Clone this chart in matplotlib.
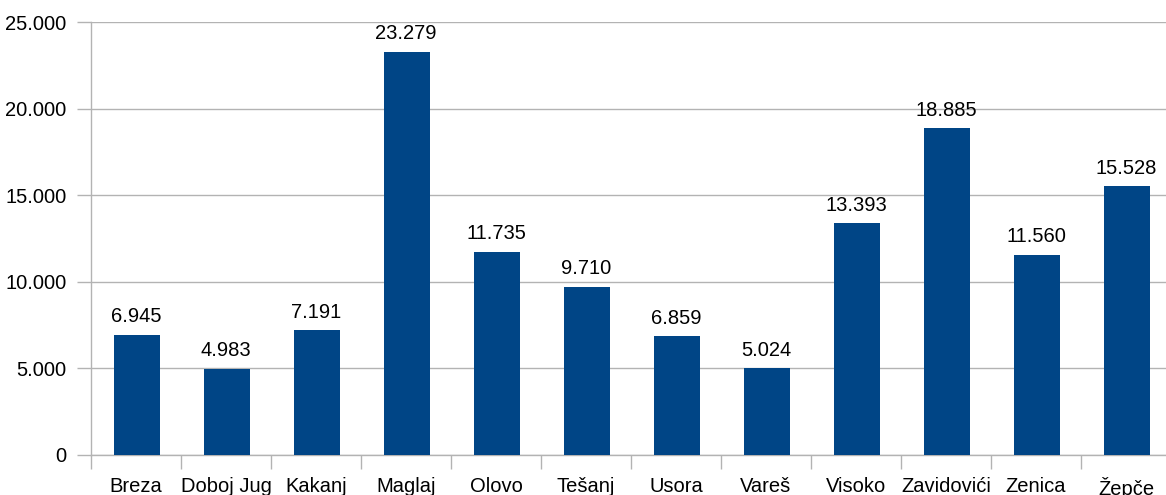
import matplotlib
matplotlib.use("Agg")
import matplotlib.pyplot as plt
from matplotlib.ticker import FuncFormatter, MultipleLocator

categories = ["Breza", "Doboj Jug", "Kakanj", "Maglaj", "Olovo", "Tešanj",
              "Usora", "Vareš", "Visoko", "Zavidovići", "Zenica", "Žepče"]
values = [6945, 4983, 7191, 23279, 11735, 9710, 6859, 5024, 13393, 18885, 11560, 15528]

plt.rcParams["font.family"] = ["Liberation Sans", "DejaVu Sans"]

W, H = 1166, 495
fig = plt.figure(figsize=(W / 100, H / 100), dpi=100)
left, right, top, bottom = 91, 1171, 22, 455
ax = fig.add_axes([left / W, 1 - bottom / H, (right - left) / W, (bottom - top) / H])

bar_color = "#004586"
grid_color = "#b3b3b3"
fs = 14.5

def fmt(v):
    return f"{int(round(v)):,}".replace(",", ".")

x = range(len(categories))
ax.bar([i + 0.01 for i in x], values, width=0.51, color=bar_color, zorder=3)
for i, v in enumerate(values):
    ax.annotate(fmt(v), (i, v), xytext=(0, 6), textcoords="offset points",
                ha="center", va="bottom", fontsize=fs, color="#000000")

ax.set_xlim(-0.5, len(categories) - 0.5)
ax.set_ylim(0, 25000)
ax.yaxis.set_major_locator(MultipleLocator(5000))
ax.yaxis.set_major_formatter(FuncFormatter(lambda v, p: fmt(v)))
ax.grid(axis="y", color=grid_color, linewidth=1, zorder=0)

ax.set_xticks([i - 0.5 for i in range(len(categories) + 1)], minor=False)
ax.set_xticklabels([""] * (len(categories) + 1))
ax.set_xticks(list(x), minor=True)
ax.set_xticklabels(categories, minor=True)
ax.tick_params(axis="x", which="major", length=10, width=1, color=grid_color)
ax.tick_params(axis="x", which="minor", length=0, pad=16, labelsize=fs)
ax.tick_params(axis="y", length=10, width=1, color=grid_color, pad=7.5, labelsize=fs)

for s in ["top", "right"]:
    ax.spines[s].set_visible(False)
for s in ["left", "bottom"]:
    ax.spines[s].set_color(grid_color)
    ax.spines[s].set_linewidth(1)

fig.savefig("out.png", dpi=100)
